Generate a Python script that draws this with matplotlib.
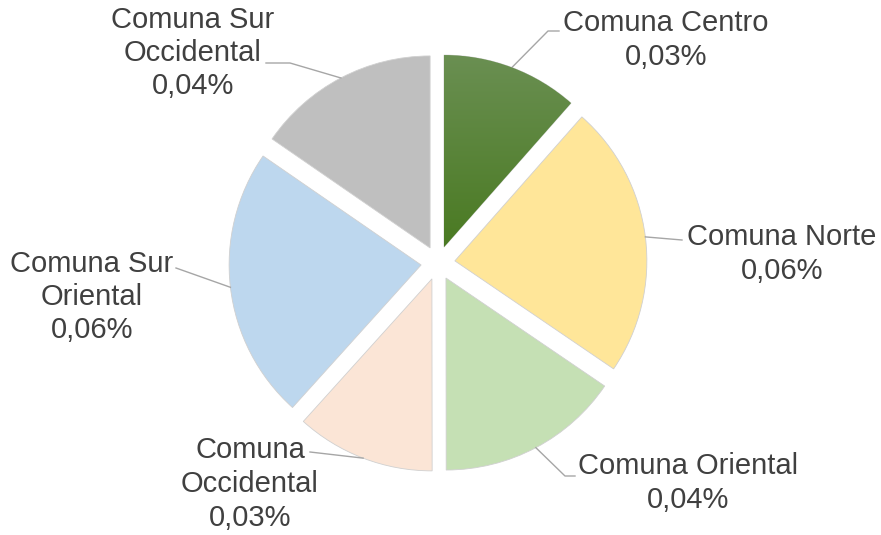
import numpy as np
import matplotlib
matplotlib.use("Agg")
import matplotlib.pyplot as plt
from matplotlib.colors import LinearSegmentedColormap

# ------------------------------------------------------------
# Datos
# ------------------------------------------------------------

comunas = [
    "Comuna Centro",
    "Comuna Norte",
    "Comuna Oriental",
    "Comuna\nOccidental",
    "Comuna Sur\nOriental",
    "Comuna Sur\nOccidental",
]
valores = [0.029, 0.058, 0.039, 0.0295, 0.0578, 0.0388]

colores = ["#5A8A3A", "#FFE699", "#C5E0B4", "#FBE5D6", "#BDD7EE", "#BFBFBF"]

# ------------------------------------------------------------
# Estilo / posiciones (pixeles, y hacia arriba)
# ------------------------------------------------------------

W, H = 881, 535
CENTER = (438, H - 263)
RADIUS = 192
EXPLODE = 17

TEXT_COLOR = "#404040"
LINE_COLOR = "#A6A6A6"

# posicion del texto y puntos del conector (codo, final)
label_pos = [(666, 40), (782, 254), (688, 483), (250, 484), (92, 297), (193, 53)]
leader_pts = [
    [(548, 31), (559, 31)],
    [(682, 240)],
    [(565, 476), (575, 476)],
    [(310, 452)],
    [(176, 268)],
    [(290, 63), (266, 63)],
]

plt.rcParams["font.family"] = ["Liberation Sans", "DejaVu Sans"]

fig = plt.figure(figsize=(W / 100, H / 100), dpi=100)
ax = fig.add_axes([0, 0, 1, 1])

wedges, _ = ax.pie(
    valores,
    colors=colores,
    startangle=90,
    counterclock=False,
    explode=[EXPLODE] * len(valores),
    radius=RADIUS,
    center=CENTER,
    wedgeprops=dict(linewidth=0.6, edgecolor="#D0D0D0"),
)

ax.set_xlim(0, W)
ax.set_ylim(0, H)
ax.set_aspect("equal")
ax.axis("off")

# degradado en la Comuna Centro
w0 = wedges[0]
grad = LinearSegmentedColormap.from_list("g", ["#4A7A22", "#6A8F52"])
cx, cy = w0.center
img = np.linspace(0, 1, 256).reshape(-1, 1)
im = ax.imshow(img, cmap=grad, origin="lower", aspect="auto",
               extent=(cx - RADIUS, cx + RADIUS, cy, cy + RADIUS), zorder=w0.get_zorder() + 0.1)
im.set_clip_path(w0)

# etiquetas y conectores
for w, nombre, v, (lx, ly), pts in zip(wedges, comunas, valores, label_pos, leader_pts):
    ang = np.deg2rad((w.theta1 + w.theta2) / 2)
    x0 = w.center[0] + w.r * np.cos(ang)
    y0 = w.center[1] + w.r * np.sin(ang)
    xs = [x0] + [p[0] for p in pts]
    ys = [y0] + [H - p[1] for p in pts]
    ax.plot(xs, ys, color=LINE_COLOR, lw=1.0, zorder=1)

    texto = nombre + "\n" + f"{v:.2f}".replace(".", ",") + "%"
    ax.text(lx, H - ly, texto, ha="center", va="center", fontsize=21,
            color=TEXT_COLOR, linespacing=1.25)

fig.savefig("out.png", dpi=100)
